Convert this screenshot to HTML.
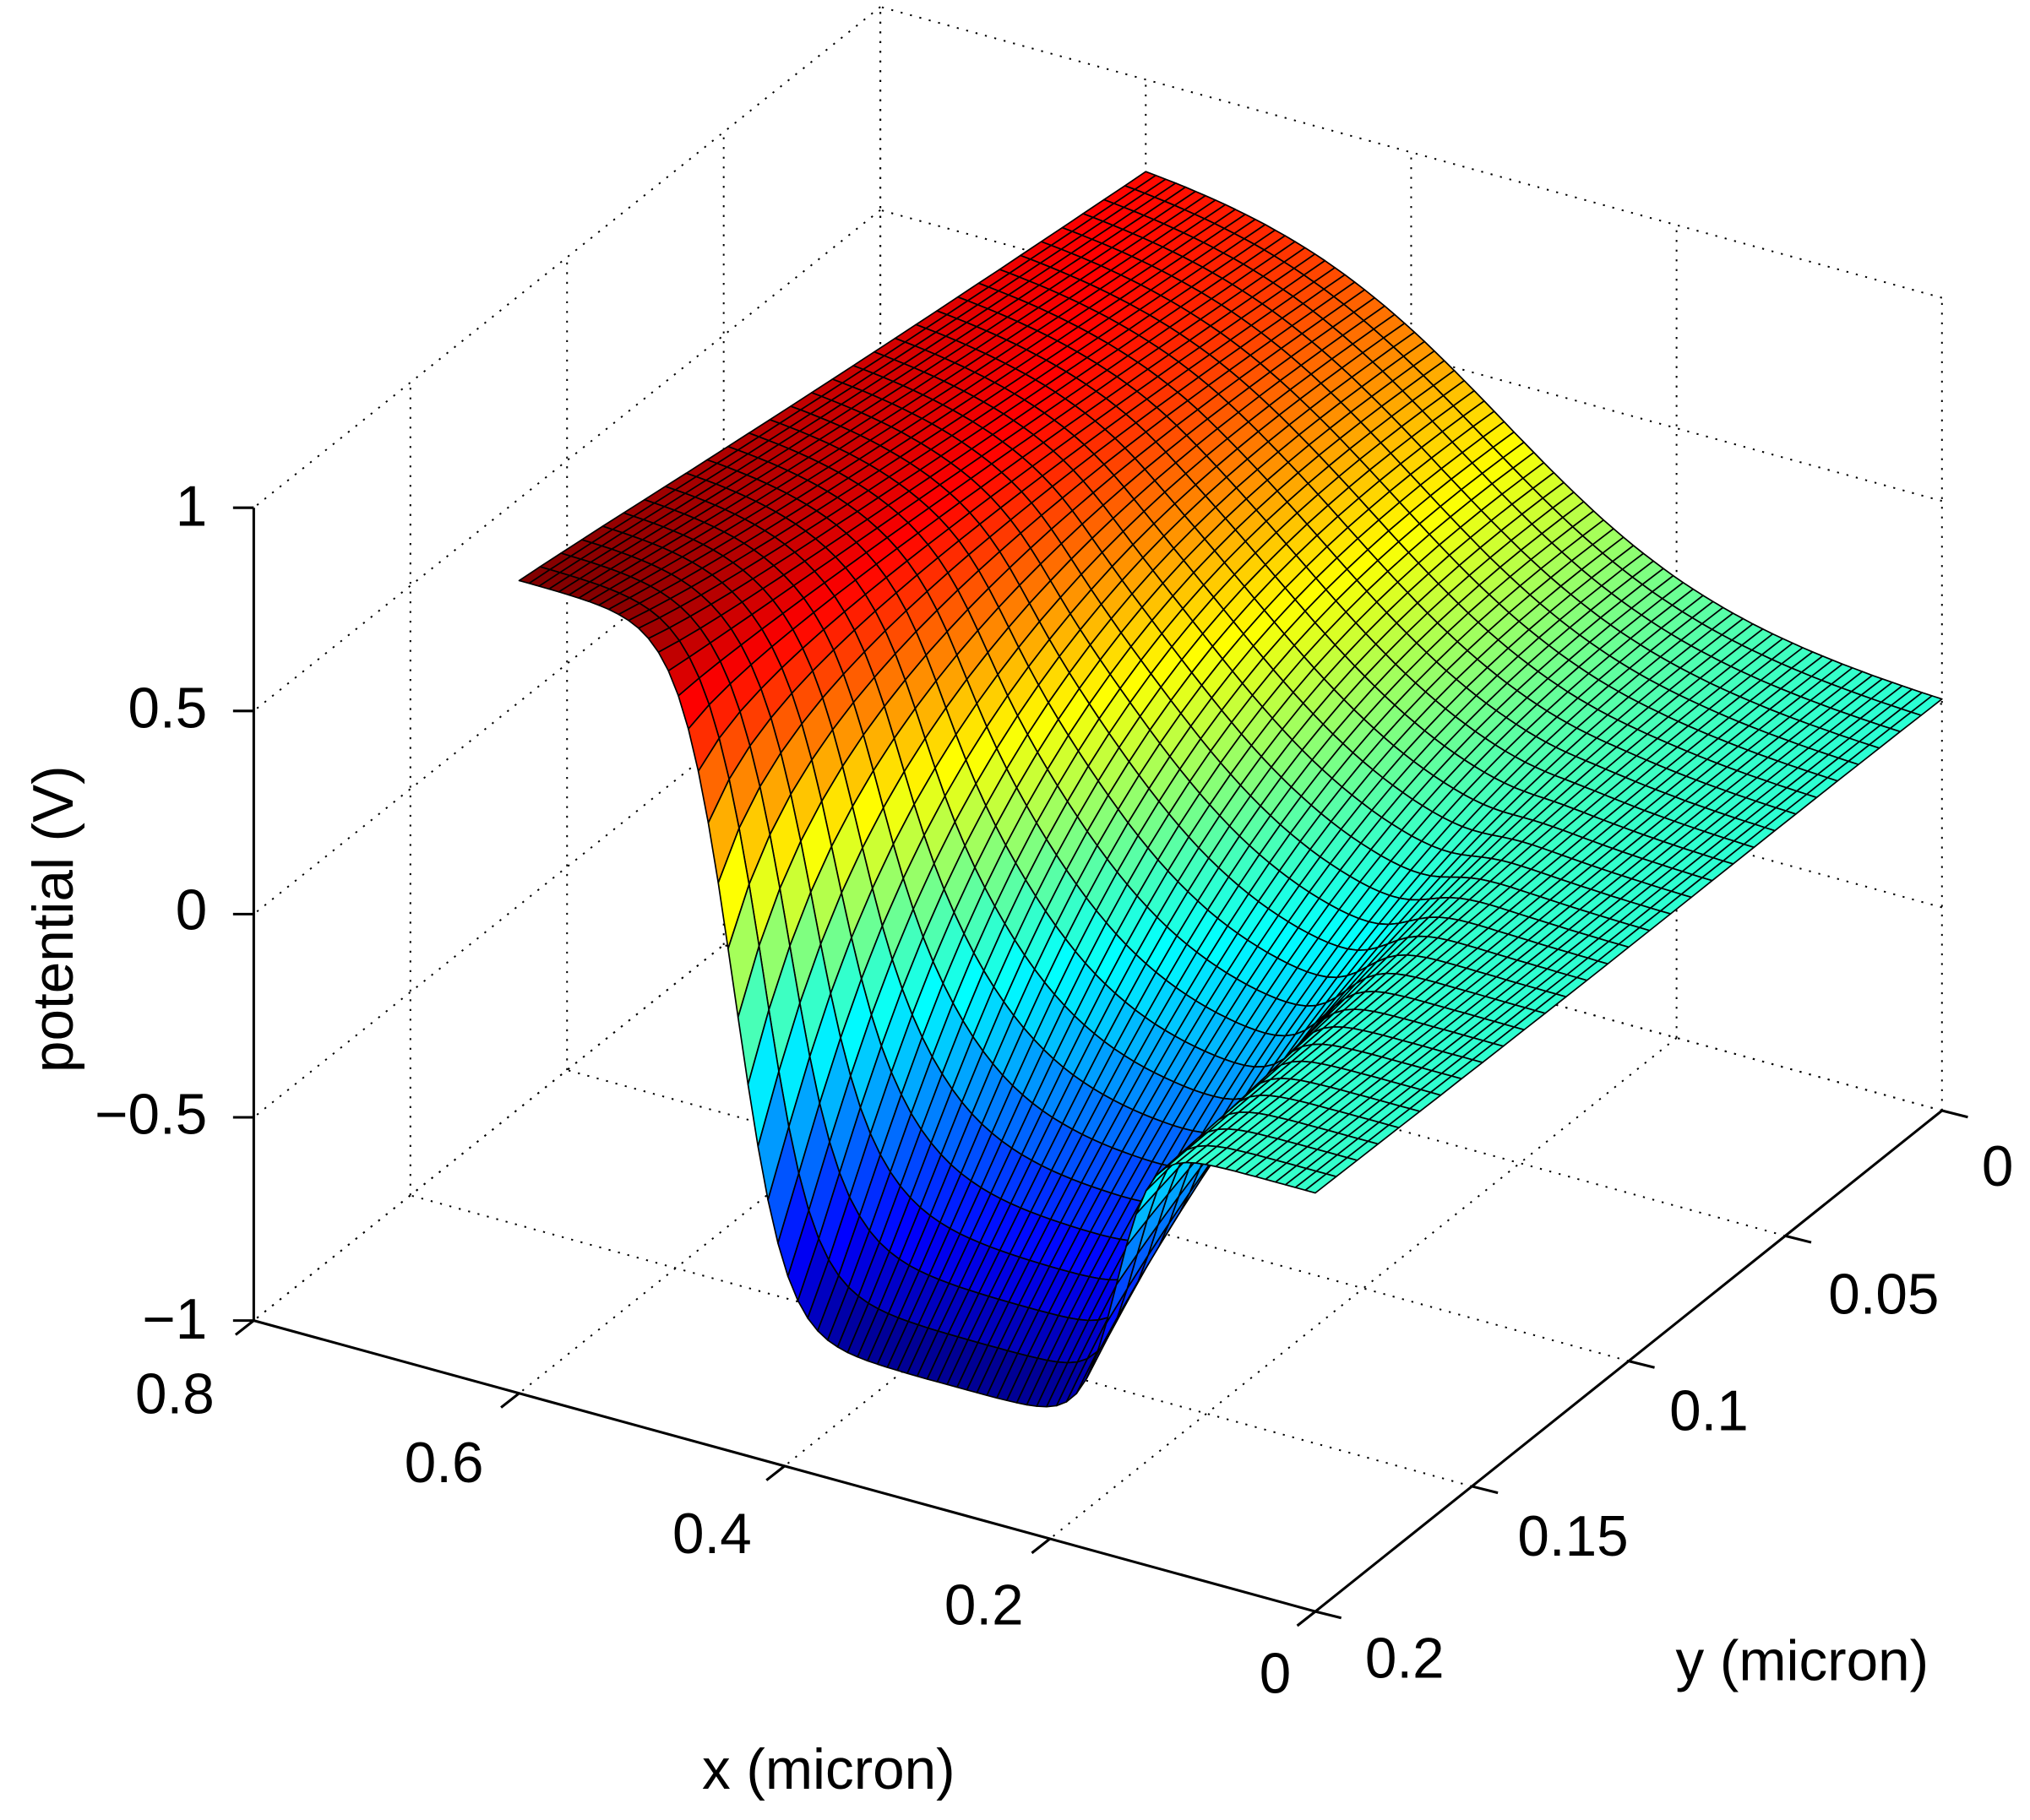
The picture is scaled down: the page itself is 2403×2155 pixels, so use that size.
<!DOCTYPE html>
<html><head><meta charset="utf-8">
<style>
html,body{margin:0;padding:0;background:#fff;}
svg{display:block;}
text{font-family:"Liberation Sans",Arial,sans-serif;fill:#000;}
</style></head>
<body>
<svg id="s" xmlns="http://www.w3.org/2000/svg" width="2403" height="2155" viewBox="0 0 1568 1406">
<rect width="1568" height="1406" fill="#fff"/>
<g id="grid" stroke="#000" stroke-width="1.3" stroke-dasharray="1.5,6" fill="none"></g>
<g id="surf" stroke="#000" stroke-width="1.1" stroke-linejoin="round"></g>
<g id="axes" stroke="#000" stroke-width="2" fill="none"></g>
<g id="lbl" font-size="44"></g>
</svg>
<script>
function P(x,y,z){return [1500-1025*x-2420*y, 858-281*x+1935*y-314*(z+1)];}
var NS="http://www.w3.org/2000/svg";
function line(g,a,b){var l=document.createElementNS(NS,"line");l.setAttribute("x1",a[0].toFixed(1));l.setAttribute("y1",a[1].toFixed(1));l.setAttribute("x2",b[0].toFixed(1));l.setAttribute("y2",b[1].toFixed(1));g.appendChild(l);}
var grid=document.getElementById("grid");
var xs=[0,0.2,0.4,0.6,0.8], ys=[0,0.05,0.1,0.15,0.2], zs=[-1,-0.5,0,0.5,1];
xs.forEach(function(x){line(grid,P(x,0,-1),P(x,0.2,-1));line(grid,P(x,0,-1),P(x,0,1));});
ys.forEach(function(y){line(grid,P(0,y,-1),P(0.8,y,-1));line(grid,P(0.8,y,-1),P(0.8,y,1));});
zs.forEach(function(z){line(grid,P(0,0,z),P(0.8,0,z));line(grid,P(0.8,0,z),P(0.8,0.2,z));});
function s(u){return 1/(1+Math.exp(-u));}
function f(x,y){
  var t=y/0.2;
  var c=0.33+0.12*t*t, w=0.08-0.062*t*t, top=0.8+0.2*t, bot=0.03*t;
  var z=bot+(top-bot)*s((x-c)/w);
  z-=0.72*Math.pow(t,3)*s((x-0.15)/0.013)*(1-s((x-0.425)/0.016));
  return z;
}
var nx=80, ny=30, X0=0, X1=0.6, Z=[], zmin=1e9, zmax=-1e9;
for(var i=0;i<=nx;i++){Z[i]=[];for(var j=0;j<=ny;j++){var x=X0+(X1-X0)*i/nx,y=0.2*j/ny;var v=f(x,y);Z[i][j]=v;if(v<zmin)zmin=v;if(v>zmax)zmax=v;}}
function cl(v){return Math.max(0,Math.min(1,v));}
function jet(t){var r=cl(1.5-Math.abs(4*t-3)),g=cl(1.5-Math.abs(4*t-2)),b=cl(1.5-Math.abs(4*t-1));return "rgb("+Math.round(r*255)+","+Math.round(g*255)+","+Math.round(b*255)+")";}
var surf=document.getElementById("surf"), html="";
for(var i=nx-1;i>=0;i--){for(var j=0;j<ny;j++){
  var xa=X0+(X1-X0)*i/nx, xb=X0+(X1-X0)*(i+1)/nx, ya=0.2*j/ny, yb=0.2*(j+1)/ny;
  var p=[P(xa,ya,Z[i][j]),P(xb,ya,Z[i+1][j]),P(xb,yb,Z[i+1][j+1]),P(xa,yb,Z[i][j+1])];
  var zc=(Z[i][j]+Z[i+1][j]+Z[i+1][j+1]+Z[i][j+1])/4;
  html+='<polygon points="'+p.map(function(q){return q[0].toFixed(1)+","+q[1].toFixed(1);}).join(" ")+'" fill="'+jet((zc-zmin)/(zmax-zmin))+'"/>';
}}
surf.innerHTML=html;
var ax=document.getElementById("axes");
line(ax,P(0.8,0.2,-1),P(0.8,0.2,1));
line(ax,P(0.8,0.2,-1),P(0,0.2,-1));
line(ax,P(0,0.2,-1),P(0,0,-1));
zs.forEach(function(z){var a=P(0.8,0.2,z);line(ax,a,[a[0]-16,a[1]]);});
xs.forEach(function(x){var a=P(x,0.2,-1);line(ax,a,[a[0]-14,a[1]+11]);});
ys.forEach(function(y){var a=P(0,y,-1);line(ax,a,[a[0]+20,a[1]+5]);});
var lbl=document.getElementById("lbl"), t="";
function T(x,y,str,anchor,extra){t+='<text x="'+x+'" y="'+y+'" text-anchor="'+anchor+'"'+(extra||"")+'>'+str+'</text>';}
T(160,406,"1","end");T(160,562,"0.5","end");T(160,718,"0","end");T(160,876,"\u22120.5","end");T(160,1034,"\u22121","end");
T(135,1092,"0.8","middle");T(343,1145,"0.6","middle");T(550,1200,"0.4","middle");T(760,1255,"0.2","middle");T(985,1308,"0","middle");
T(1543,916,"0","middle");T(1455,1015,"0.05","middle");T(1320,1105,"0.1","middle");T(1215,1202,"0.15","middle");T(1085,1296,"0.2","middle");
T(640,1382,"x (micron)","middle");T(1392,1298,"y (micron)","middle");
T(0,0,"potential (V)","middle",' transform="translate(56,710) rotate(-90)"');
lbl.innerHTML=t;
</script>
</body></html>
